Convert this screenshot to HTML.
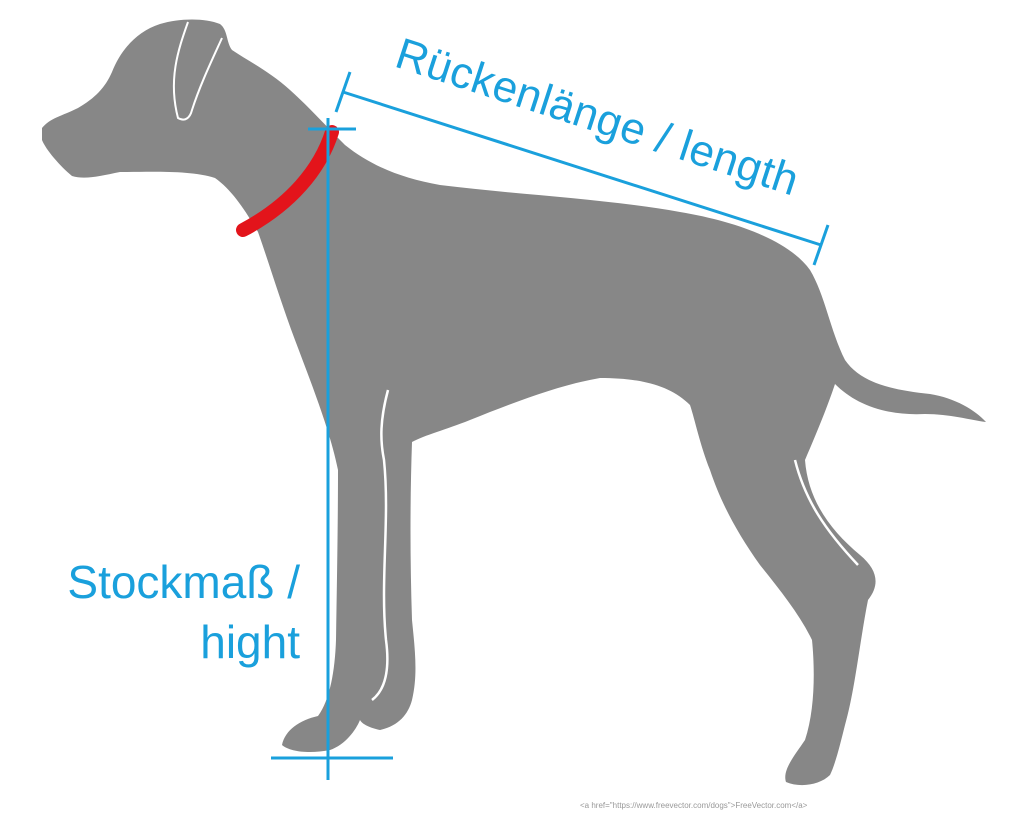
<!DOCTYPE html>
<html><head><meta charset="utf-8"><style>
html,body{margin:0;padding:0;background:#fff;}
svg{display:block}
</style></head><body>
<svg width="1029" height="823" viewBox="0 0 1029 823" xmlns="http://www.w3.org/2000/svg">
<path fill="#878787" d="
M42,128 C50,118 62,116 78,108 C95,98 105,88 112,72 C120,52 135,32 160,24 C180,18 205,18 220,24
C228,30 226,42 232,50 C250,62 270,72 290,90 C310,108 325,125 345,145 C370,165 400,178 440,185
C520,195 600,198 680,212 C740,222 790,242 810,270 C825,295 830,330 845,360 C860,382 890,390 930,394
C955,398 975,410 986,422 C970,420 950,414 925,414 C885,416 855,404 835,384 C828,405 818,430 805,460
C808,500 830,530 860,555 C878,570 880,585 868,600 C860,640 855,690 845,725 C840,745 835,765 830,775
C820,785 800,788 786,782 C782,770 795,755 805,740 C815,710 815,670 812,640 C800,615 780,590 760,565
C735,530 720,500 710,470 C700,445 695,420 690,405 C670,385 640,378 600,378 C560,385 520,400 470,420
C445,430 425,435 412,442 C410,500 410,560 412,620 C415,650 418,675 412,700 C408,715 398,726 380,730
C370,728 362,724 360,720 C356,730 345,745 330,750 C310,754 290,752 282,745 C285,730 300,720 318,716
C330,700 335,670 336,640 C337,580 338,520 338,470 C330,430 310,380 295,340 C280,300 268,260 258,232
C245,210 232,190 215,178 C190,170 150,172 120,172 C100,176 85,180 72,176 C60,166 46,150 42,140 Z"/>
<path d="M188,22 C178,50 168,80 178,118 C185,122 190,118 192,110 C200,85 212,60 222,38" fill="none" stroke="#fff" stroke-width="2"/>
<path d="M388,390 C380,420 380,440 384,460 C390,520 380,580 386,640 C390,670 385,690 372,700" fill="none" stroke="#fff" stroke-width="2.5"/>
<path d="M795,460 C805,500 825,530 858,565" fill="none" stroke="#fff" stroke-width="2.5"/>
<path d="M332,132 C320,170 290,205 243,230" fill="none" stroke="#e3141b" stroke-width="14" stroke-linecap="round"/>
<g stroke="#1aa0dc" stroke-width="3" fill="none">
<line x1="328" y1="118" x2="328" y2="780"/>
<line x1="308" y1="129" x2="356" y2="129"/>
<line x1="271" y1="758" x2="393" y2="758"/>
<line x1="343" y1="92" x2="821" y2="245"/>
<line x1="336" y1="112" x2="350" y2="72"/>
<line x1="814" y1="265" x2="828" y2="225"/>
</g>
<g fill="#1aa0dc" font-family="Liberation Sans, sans-serif" font-size="46">
<text x="393" y="66" transform="rotate(18 393 66)" textLength="420" font-size="44">Rückenlänge / length</text>
<text x="300" y="598" text-anchor="end">Stockmaß /</text>
<text x="300" y="658" text-anchor="end">hight</text>
</g>
<text x="580" y="808" font-family="Liberation Sans, sans-serif" font-size="8" fill="#999">&lt;a href="https://www.freevector.com/dogs"&gt;FreeVector.com&lt;/a&gt;</text>
</svg>
</body></html>
